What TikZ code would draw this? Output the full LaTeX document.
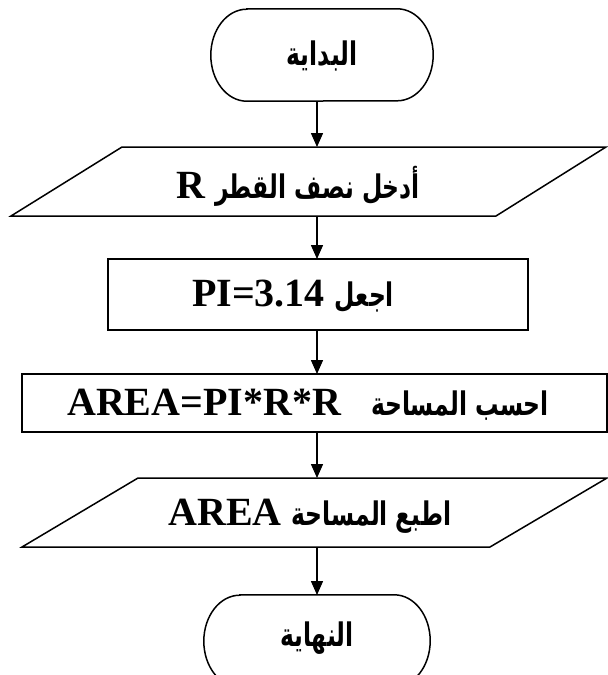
\documentclass[tikz,border=0pt]{standalone}
\usepackage{graphicx}
\usepackage{fontspec}
\setmainfont{Liberation Serif}
\newfontfamily\arabicfont[Script=Arabic]{DejaVu Sans}
\TeXXeTstate=1
\usetikzlibrary{arrows.meta}
% Arabic run, set right to left, slightly condensed and taller
\newcommand{\artxt}[1]{\scalebox{0.9}[1.25]{\arabicfont\fontsize{26}{30}\selectfont\beginR #1\endR}}
% outline of a terminal node: flat top and bottom, half-elliptic ends
\newcommand{\termoutline}[1]{%
  \draw[outline] ([xshift=36pt]#1.north west) -- ([xshift=-36pt]#1.north east)
    arc[start angle=90, end angle=-90, x radius=36pt, y radius=46pt]
    -- ([xshift=36pt]#1.south west)
    arc[start angle=270, end angle=90, x radius=36pt, y radius=46pt] -- cycle;}
\begin{document}
\begin{tikzpicture}[x=1pt,y=-1pt,
  outline/.style={draw, line width=1.5pt, line join=miter},
  terminal/.style={rectangle, inner sep=0pt, minimum height=92pt},
  procbox/.style={outline, rectangle, inner sep=0pt},
  flow/.style={line width=1.5pt, -{Triangle[length=14pt,width=12pt]}},
  txt/.style={inner sep=0pt, font=\fontsize{40}{44}\selectfont\bfseries}
]
\useasboundingbox (0,0) rectangle (608,675);

% start terminal
\node[terminal, minimum width=222pt] (start) at (322,55) {};
\termoutline{start}
\node[txt] (starttxt) at (322,56) {\artxt{البداية}};

% input: radius
\draw[outline] (122,147) coordinate (p1tl) -- (606,147) coordinate (p1tr)
  -- (496,216) coordinate (p1br) -- (11,216) coordinate (p1bl) -- cycle;
\node[txt] (in1) at (298,186) {R\ \artxt{أدخل نصف القطر}};

% process: PI
\node[procbox, minimum width=420pt, minimum height=71pt] (pi) at (318,294.5) {};
\node[txt] (pitxt) at (293,296) {PI=3.14\ \artxt{اجعل}};

% process: area
\node[procbox, minimum width=585pt, minimum height=58pt] (area) at (314.5,403) {};
\node[txt] (areatxt) at (308,405) {AREA=PI*R*R\ \ \ \artxt{احسب المساحة}};

% output: area
\draw[outline] (138,478) coordinate (p2tl) -- (607,478) coordinate (p2tr)
  -- (490,547) coordinate (p2br) -- (22,547) coordinate (p2bl) -- cycle;
\node[txt] (out1) at (310,516) {AREA\ \artxt{اطبع المساحة}};

% end terminal
\node[terminal, minimum width=226pt] (stop) at (317,641) {};
\termoutline{stop}
\node[txt] (stoptxt) at (317,638) {\artxt{النهاية}};

% connector end points on the flow axis
\coordinate (a1s) at (317,101);  \coordinate (a1e) at (317,147);
\coordinate (a2s) at (317,216);  \coordinate (a2e) at (317,259);
\coordinate (a3s) at (317,330);  \coordinate (a3e) at (317,374);
\coordinate (a4s) at (317,432);  \coordinate (a4e) at (317,478);
\coordinate (a5s) at (317,547);  \coordinate (a5e) at (317,595);

\draw[flow] (a1s) -- (a1e);
\draw[flow] (a2s) -- (a2e);
\draw[flow] (a3s) -- (a3e);
\draw[flow] (a4s) -- (a4e);
\draw[flow] (a5s) -- (a5e);
\end{tikzpicture}
\end{document}
